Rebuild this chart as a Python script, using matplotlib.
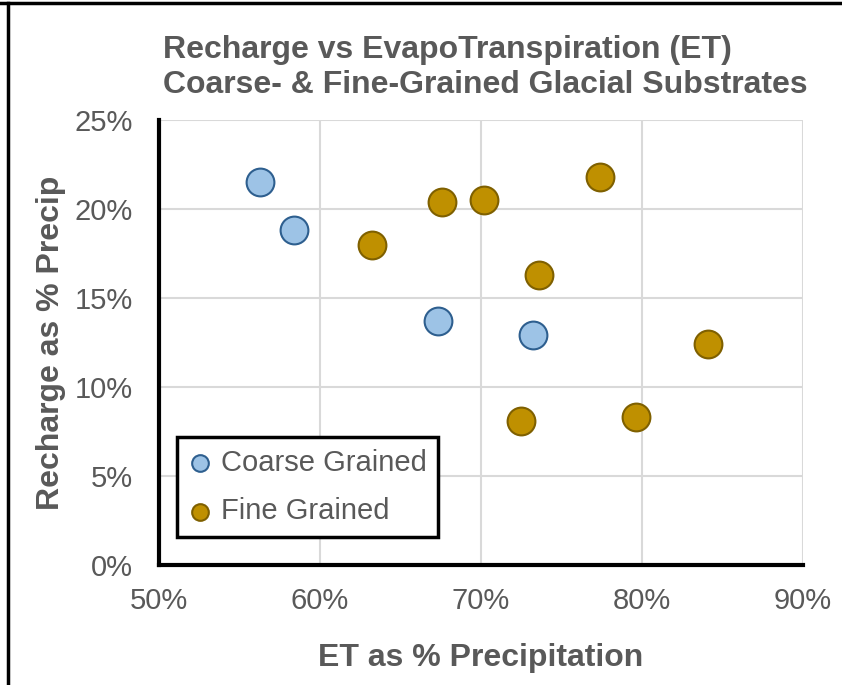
import matplotlib.pyplot as plt
from matplotlib.lines import Line2D
from matplotlib.ticker import FuncFormatter

plt.rcParams['font.family'] = ['Liberation Sans', 'DejaVu Sans']

# ET and recharge as % of precipitation
coarse_et = [56.3, 58.4, 67.3, 73.2]
coarse_rech = [21.5, 18.8, 13.7, 12.9]
fine_et = [63.2, 67.6, 70.2, 77.4, 73.6, 84.1, 72.5, 79.6]
fine_rech = [18.0, 20.4, 20.5, 21.8, 16.3, 12.4, 8.1, 8.3]

fig = plt.figure(figsize=(8.42, 6.85), dpi=100)
ax = fig.add_axes([159/842, 1-565/685, 644/842, 445/685])

ax.scatter(coarse_et, coarse_rech, s=400, color='#9DC3E6', edgecolor='#2E5F8F',
           linewidth=1.5, label='Coarse Grained', zorder=3)
ax.scatter(fine_et, fine_rech, s=400, color='#BF9000', edgecolor='#7F6000',
           linewidth=1.5, label='Fine Grained', zorder=3)

ax.set_xlim(50, 90)
ax.set_ylim(0, 25)
ax.set_xticks(range(50, 91, 10))
ax.set_yticks(range(0, 26, 5))
fmt = FuncFormatter(lambda v, p: f'{v:.0f}%')
ax.xaxis.set_major_formatter(fmt)
ax.yaxis.set_major_formatter(fmt)
ax.tick_params(length=0, labelsize=21, labelcolor='#595959')
ax.tick_params(axis='x', pad=16)
ax.tick_params(axis='y', pad=19)

ax.grid(True, color='#D9D9D9', linewidth=1.5)
ax.set_axisbelow(True)
for s in ['top', 'right']:
    ax.spines[s].set_visible(False)
for s in ['left', 'bottom']:
    ax.spines[s].set_color('black')
    ax.spines[s].set_linewidth(3)

ax.set_xlabel('ET as % Precipitation', fontsize=23, fontweight='bold',
              color='#595959', labelpad=20)
ax.set_ylabel('Recharge as % Precip', fontsize=23, fontweight='bold',
              color='#595959', labelpad=6)

fig.text(163/842, 1-35/685, 'Recharge vs EvapoTranspiration (ET)\nCoarse- & Fine-Grained Glacial Substrates',
         ha='left', va='top', fontsize=23, fontweight='bold', color='#595959',
         linespacing=1.2)

leg = ax.legend(loc='lower left', bbox_to_anchor=(0.028, 0.063), fontsize=21,
                markerscale=0.6, handlelength=0.8, handletextpad=0.3,
                borderpad=0.4, labelspacing=0.7, borderaxespad=0,
                fancybox=False, framealpha=1, labelcolor='#595959')
leg.get_frame().set_edgecolor('black')
leg.get_frame().set_linewidth(2.5)

# outer frame lines (top and left)
fig.add_artist(Line2D([0, 1], [1-3/685, 1-3/685], color='black', linewidth=2.5,
                      transform=fig.transFigure))
fig.add_artist(Line2D([8/842, 8/842], [0, 1-3/685], color='black', linewidth=2.5,
                      transform=fig.transFigure))

fig.savefig('out.png', dpi=100)
